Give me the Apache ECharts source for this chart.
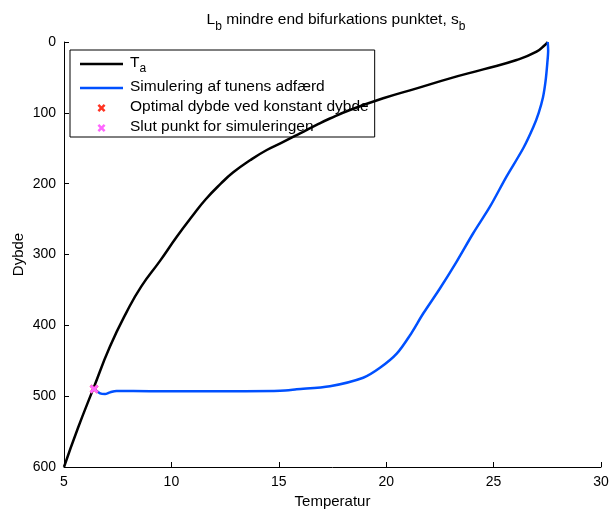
<!DOCTYPE html>
<html>
<head>
<meta charset="utf-8">
<script src="https://cdn.jsdelivr.net/npm/echarts@6/dist/echarts.min.js"></script>
<style>html,body{margin:0;padding:0;background:#fff;}#c{width:615px;height:509px;}</style>
</head>
<body>
<div id="c"></div>
<script>
// Ambient temperature profile T_a (temperature, depth)
var taTemp  = [5.0, 5.65, 6.37, 7.14, 7.92, 8.6, 9.47, 10.25, 11.02, 11.6, 12.3, 12.88, 13.66, 14.44, 15.21, 15.99, 16.76, 17.38, 18.31, 19.86, 21.42, 22.97, 24.52, 26.07, 27.0, 27.39, 27.52];
var taDepth = [600, 545, 489, 430, 381, 345, 309, 275, 244, 222, 200, 184, 167, 152.5, 141, 129, 117, 108, 96, 79.5, 65.4, 51.3, 38.6, 25.4, 13.7, 4.2, 0];

// Simulated tuna behaviour (temperature, depth), in time order
var simTemp  = [27.52, 27.54, 27.5, 27.42, 27.3, 27.1, 26.85, 26.38, 25.6, 24.83, 24.05, 23.28, 22.5, 21.73, 21.11, 20.49, 19.71, 18.93, 17.38, 15.83, 15.06, 13.0, 11.0, 9.0, 7.45, 7.14, 6.91, 6.68, 6.4];
var simDepth = [0, 12, 30, 55, 78, 100, 120, 150, 190, 232.5, 270, 310, 348, 383, 414, 440, 460, 474, 486, 490.4, 492.3, 493, 493.2, 493, 492.7, 494.6, 497, 496, 490];

// Optimal depth at constant depth and end point of simulation
var optimalPoint = [6.4, 490];
var endPoint = [6.4, 490];

var xTicks = {min: 5, max: 30, interval: 5};
var yTicks = {min: 0, max: 600, interval: 100};

var seriesNames = ['T_a', 'Simulering af tunens adfærd', 'Optimal dybde ved konstant dybde', 'Slut punkt for simuleringen'];

function pairs(xs, ys) { return xs.map(function (v, i) { return [v, ys[i]]; }); }

var xMark = 'path://M0,2 L2,0 L4.5,2.5 L7,0 L9,2 L6.5,4.5 L9,7 L7,9 L4.5,6.5 L2,9 L0,7 L2.5,4.5 Z';
var lineIcon = 'path://M0,0 L43,0 L43,2.5 L0,2.5 Z';
var FONT = '"Liberation Sans", Arial, Helvetica, sans-serif';

var chart = echarts.init(document.getElementById('c'), null, {renderer: 'canvas'});
chart.setOption({
  animation: false,
  backgroundColor: '#ffffff',
  textStyle: {fontFamily: FONT, color: '#000'},
  title: {
    text: '{a|L}{s|b}{a| mindre end bifurkations punktet, s}{s|b}',
    left: 331, top: 7, textAlign: 'center',
    textStyle: {
      fontWeight: 'normal',
      rich: {
        a: {fontFamily: FONT, fontSize: 15.5, fontWeight: 'normal', color: '#000', lineHeight: 17, verticalAlign: 'top'},
        s: {fontFamily: FONT, fontSize: 12, fontWeight: 'normal', color: '#000', lineHeight: 14, verticalAlign: 'top', padding: [9, 0, 0, 0]}
      }
    }
  },
  grid: {left: 64, right: 14, top: 42, bottom: 42, containLabel: false, outerBoundsMode: 'none'},
  legend: {
    orient: 'vertical', left: 70, top: 50, z: 1,
    padding: [5, 6, 2, 10],
    itemWidth: 43, itemHeight: 8, itemGap: 4,
    backgroundColor: '#fff', borderColor: '#000', borderWidth: 1, borderRadius: 0,
    data: [
      {name: seriesNames[0], icon: lineIcon},
      {name: seriesNames[1], icon: lineIcon},
      {name: seriesNames[2]},
      {name: seriesNames[3]}
    ],
    formatter: function (n) { return n === 'T_a' ? '{a|T}{s|a}' : '{a|' + n + '}'; },
    textStyle: {
      fontFamily: FONT, fontSize: 15.5, color: '#000', padding: [0, 0, 0, 2],
      rich: {
        a: {fontFamily: FONT, fontSize: 15.5, color: '#000', lineHeight: 18, verticalAlign: 'top'},
        s: {fontFamily: FONT, fontSize: 12, color: '#000', lineHeight: 14, verticalAlign: 'top', padding: [8, 0, 0, 0]}
      }
    }
  },
  xAxis: {
    type: 'value', min: xTicks.min, max: xTicks.max, interval: xTicks.interval,
    name: 'Temperatur', nameLocation: 'middle', nameGap: 27, nameMoveOverlap: false,
    nameTextStyle: {fontFamily: FONT, fontSize: 15, color: '#000'},
    axisLine: {show: true, onZero: false, lineStyle: {color: '#000', width: 1}},
    axisTick: {show: true, inside: true, length: 5, lineStyle: {color: '#000'}},
    axisLabel: {fontFamily: FONT, fontSize: 14, color: '#000', margin: 8},
    splitLine: {show: false}
  },
  yAxis: {
    type: 'value', inverse: true, min: yTicks.min, max: yTicks.max, interval: yTicks.interval,
    name: 'Dybde', nameLocation: 'middle', nameGap: 38, nameRotate: 90, nameMoveOverlap: false,
    nameTextStyle: {fontFamily: FONT, fontSize: 15, color: '#000'},
    axisLine: {show: true, onZero: false, lineStyle: {color: '#000', width: 1}},
    axisTick: {show: true, inside: true, length: 5, lineStyle: {color: '#000'}},
    axisLabel: {fontFamily: FONT, fontSize: 14, color: '#000', margin: 8},
    splitLine: {show: false}
  },
  series: [
    {
      name: seriesNames[0], type: 'line', data: pairs(taTemp, taDepth),
      symbol: 'none', smooth: 0.5, lineStyle: {color: '#000', width: 2.5}, itemStyle: {color: '#000'}, z: 3
    },
    {
      name: seriesNames[1], type: 'line', data: pairs(simTemp, simDepth),
      symbol: 'none', smooth: 0.3, lineStyle: {color: '#0050ff', width: 2.5}, itemStyle: {color: '#0050ff'}, z: 4
    },
    {
      name: seriesNames[2], type: 'scatter', data: [optimalPoint],
      symbol: xMark, symbolSize: 9, itemStyle: {color: '#ff3322', opacity: 1}, z: 5
    },
    {
      name: seriesNames[3], type: 'scatter', data: [endPoint],
      symbol: xMark, symbolSize: 9, itemStyle: {color: '#ff66ff', opacity: 1}, z: 6
    }
  ]
});
</script>
</body>
</html>
